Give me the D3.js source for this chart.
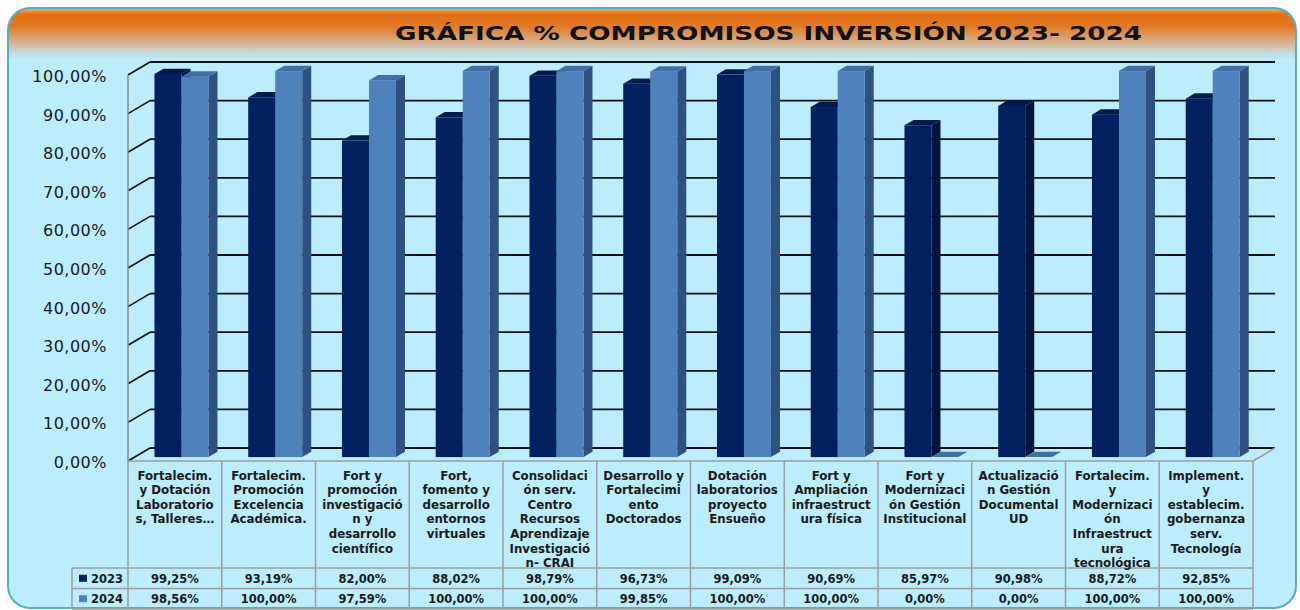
<!DOCTYPE html>
<html lang="es">
<head>
<meta charset="UTF-8">
<title>Gráfica % Compromisos Inversión 2023-2024</title>
<style>
body {
    margin: 0;
    background-color: #fff;
}
svg {
    display: block;
}
text {
    font-family: "DejaVu Sans", Verdana, sans-serif;
    fill: #1a1a1a;
}
</style>
</head>
<body>
<div id="chart"></div>
<script src="https://cdn.jsdelivr.net/npm/d3@7"></script>
<script>

const w = 1300,
      h = 610;

// data
const categories = ["c1","c2","c3","c4","c5","c6","c7","c8","c9","c10","c11","c12"];
const categoryLines = [
    ["Fortalecim.", "y Dotación", "Laboratorio", "s, Talleres…"],
    ["Fortalecim.", "Promoción", "Excelencia", "Académica."],
    ["Fort y", "promoción", "investigació", "n y", "desarrollo", "científico"],
    ["Fort,", "fomento y", "desarrollo", "entornos", "virtuales"],
    ["Consolidaci", "ón serv.", "Centro", "Recursos", "Aprendizaje", "Investigació", "n- CRAI"],
    ["Desarrollo y", "Fortalecimi", "ento", "Doctorados"],
    ["Dotación", "laboratorios", "proyecto", "Ensueño"],
    ["Fort y", "Ampliación", "infraestruct", "ura física"],
    ["Fort y", "Modernizaci", "ón Gestión", "Institucional"],
    ["Actualizació", "n Gestión", "Documental", "UD"],
    ["Fortalecim.", "y", "Modernizaci", "ón", "Infraestruct", "ura", "tecnológica"],
    ["Implement.", "y", "establecim.", "gobernanza", "serv.", "Tecnología"]
];
const seriesNames = ["2023", "2024"];
const values2023 = [99.25, 93.19, 82.00, 88.02, 98.79, 96.73, 99.09, 90.69, 85.97, 90.98, 88.72, 92.85];
const values2024 = [98.56, 100, 97.59, 100, 100, 99.85, 100, 100, 0, 0, 100, 100];
const yTicks = [0, 10, 20, 30, 40, 50, 60, 70, 80, 90, 100];
const title = "GRÁFICA % COMPROMISOS INVERSIÓN 2023- 2024";

// colours per series: front, top, side
const colors = {
    "2023": {front: "#002060", top: "#001a4e", side: "#00143c"},
    "2024": {front: "#4f81bd", top: "#426fa6", side: "#2f5180"}
};

const esLocale = d3.formatLocale({decimal: ",", thousands: ".", grouping: [3], currency: ["", "€"]});
const pct = v => esLocale.format(".2f")(v) + "%";

// svg
const svg = d3.select("#chart").append("svg")
    .attr("width", w)
    .attr("height", h);

const defs = svg.append("defs");

defs.append("clipPath").attr("id", "frameClip")
    .append("rect")
    .attr("x", 8).attr("y", 8)
    .attr("width", 1288).attr("height", 600)
    .attr("rx", 22);

const grad = defs.append("linearGradient")
    .attr("id", "header")
    .attr("x1", 0).attr("y1", 0).attr("x2", 0).attr("y2", 1);
grad.selectAll("stop")
    .data([[0, "#f3b27a"], [0.12, "#e46f10"], [0.35, "#e27a22"], [0.65, "#d7ae88"], [0.85, "#c6d8d8"], [1, "#bcedfc"]])
    .join("stop")
    .attr("offset", d => d[0])
    .attr("stop-color", d => d[1]);

// frame background
const frame = svg.append("g").attr("clip-path", "url(#frameClip)");
frame.append("rect")
    .attr("x", 8).attr("y", 8)
    .attr("width", 1288).attr("height", 600)
    .attr("fill", "#bcedfc");
frame.append("rect")
    .attr("x", 8).attr("y", 8)
    .attr("width", 1288).attr("height", 52)
    .attr("fill", "url(#header)");

svg.append("rect")
    .attr("x", 8).attr("y", 8)
    .attr("width", 1288).attr("height", 600)
    .attr("rx", 22)
    .attr("fill", "none")
    .attr("stroke", "#4fafcb")
    .attr("stroke-width", 2);

// title
svg.append("text")
    .attr("x", 395)
    .attr("y", 40)
    .attr("textLength", 747)
    .attr("lengthAdjust", "spacingAndGlyphs")
    .attr("font-size", 20)
    .attr("font-weight", "bold")
    .style("fill", "#111")
    .text(title);

// scales
const x = d3.scaleBand().domain(categories).range([128, 1253]);
const y = d3.scaleLinear().domain([0, 100]).range([461, 75]);
const xs = d3.scaleBand().domain(seriesNames).range([0, 54]);

// 3d depth of the walls
const depthX = 22,
      depthY = -13;
const barZ0 = 0.3,
      barZ1 = 0.71;

// left wall diagonals and back wall grid
const grid = svg.append("g");
grid.selectAll(".diag")
    .data(yTicks)
    .join("line")
    .attr("class", "diag")
    .attr("x1", 128).attr("y1", d => y(d))
    .attr("x2", 128 + depthX).attr("y2", d => y(d) + depthY)
    .attr("stroke", "#111")
    .attr("stroke-width", 1.6);
grid.selectAll(".gridline")
    .data(yTicks)
    .join("line")
    .attr("class", "gridline")
    .attr("x1", 128 + depthX).attr("y1", d => y(d) + depthY)
    .attr("x2", 1253 + depthX).attr("y2", d => y(d) + depthY)
    .attr("stroke", "#111")
    .attr("stroke-width", 1.8);

// left axis and floor edge
svg.append("line")
    .attr("x1", 128).attr("y1", y(100))
    .attr("x2", 128).attr("y2", y(0))
    .attr("stroke", "#8a8a8a")
    .attr("stroke-width", 1.5);
svg.append("line")
    .attr("x1", 1253).attr("y1", y(0))
    .attr("x2", 1253 + depthX).attr("y2", y(0) + depthY)
    .attr("stroke", "#9a9a9a")
    .attr("stroke-width", 1.5);

// y tick labels
svg.append("g").selectAll("text")
    .data(yTicks)
    .join("text")
    .attr("x", 107)
    .attr("y", d => y(d) + 7)
    .attr("text-anchor", "end")
    .attr("font-size", 16)
    .attr("letter-spacing", 0.5)
    .text(d => pct(d));

// bars
const barData = [];
categories.forEach((c, i) => {
    barData.push({cat: c, s: "2023", v: values2023[i]});
    barData.push({cat: c, s: "2024", v: values2024[i]});
});

const pairOffset = (x.bandwidth() - 54) / 2;
const bw = xs.bandwidth();

const bars = svg.append("g").selectAll("g")
    .data(barData)
    .join("g");

function corners(d) {
    const xl = x(d.cat) + pairOffset + xs(d.s);
    const fx = xl + depthX * barZ0, fy = depthY * barZ0;
    const bx = xl + depthX * barZ1, by = depthY * barZ1;
    return {fx, fy, bx, by, top: y(d.v), base: y(0)};
}

bars.append("path")
    .attr("d", d => {
        const k = corners(d);
        return `M${k.fx + bw},${k.top + k.fy}L${k.bx + bw},${k.top + k.by}L${k.bx + bw},${k.base + k.by}L${k.fx + bw},${k.base + k.fy}Z`;
    })
    .attr("fill", d => colors[d.s].side);

bars.append("rect")
    .attr("x", d => corners(d).fx)
    .attr("y", d => y(d.v) + depthY * barZ0)
    .attr("width", bw)
    .attr("height", d => y(0) - y(d.v))
    .attr("fill", d => colors[d.s].front);

bars.append("path")
    .attr("d", d => {
        const k = corners(d);
        return `M${k.fx},${k.top + k.fy}L${k.fx + bw},${k.top + k.fy}L${k.bx + bw},${k.top + k.by}L${k.bx},${k.top + k.by}Z`;
    })
    .attr("fill", d => colors[d.s].top);

// data table
const tableTop = 461,
      catBottom = 568,
      rowH = 20.5,
      legendLeft = 72;
const table = svg.append("g");
const border = "#9c9c9c";

const colEdges = categories.map(c => x(c)).concat([x.range()[1]]);
table.selectAll(".col")
    .data(colEdges)
    .join("line")
    .attr("class", "col")
    .attr("x1", d => d).attr("y1", tableTop)
    .attr("x2", d => d).attr("y2", catBottom + 2 * rowH)
    .attr("stroke", border)
    .attr("stroke-width", 1.5);

const rowEdges = [tableTop, catBottom, catBottom + rowH, catBottom + 2 * rowH];
table.selectAll(".row")
    .data(rowEdges)
    .join("line")
    .attr("class", "row")
    .attr("x1", (d, i) => i === 0 ? 128 : legendLeft).attr("y1", d => d)
    .attr("x2", x.range()[1]).attr("y2", d => d)
    .attr("stroke", border)
    .attr("stroke-width", 1.5);

table.append("line")
    .attr("x1", legendLeft).attr("y1", catBottom)
    .attr("x2", legendLeft).attr("y2", catBottom + 2 * rowH)
    .attr("stroke", border)
    .attr("stroke-width", 1.5);

// category labels
table.selectAll(".cat")
    .data(categories)
    .join("text")
    .attr("class", "cat")
    .attr("x", d => x(d) + x.bandwidth() / 2)
    .attr("y", 479.5)
    .attr("text-anchor", "middle")
    .attr("font-size", 11.8)
    .attr("font-weight", "bold")
    .each(function(d, i) {
        d3.select(this).selectAll("tspan")
            .data(categoryLines[i])
            .join("tspan")
            .attr("x", x(d) + x.bandwidth() / 2)
            .attr("dy", (t, j) => j === 0 ? 0 : 14.6)
            .text(t => t);
    });

// value rows
const rows = [values2023, values2024];
rows.forEach((vals, r) => {
    const cy = catBottom + r * rowH + rowH / 2;
    table.append("g").selectAll("text")
        .data(vals)
        .join("text")
        .attr("x", (v, i) => x(categories[i]) + x.bandwidth() / 2)
        .attr("y", cy + 4.3)
        .attr("text-anchor", "middle")
        .attr("font-size", 11.5)
        .attr("font-weight", "bold")
        .text(v => pct(v));

    table.append("rect")
        .attr("x", 79).attr("y", cy - 3.5)
        .attr("width", 8).attr("height", 7)
        .attr("fill", colors[seriesNames[r]].front);
    table.append("text")
        .attr("x", 91).attr("y", cy + 4.3)
        .attr("font-size", 11.5)
        .attr("font-weight", "bold")
        .text(seriesNames[r]);
});

</script>
</body>
</html>
